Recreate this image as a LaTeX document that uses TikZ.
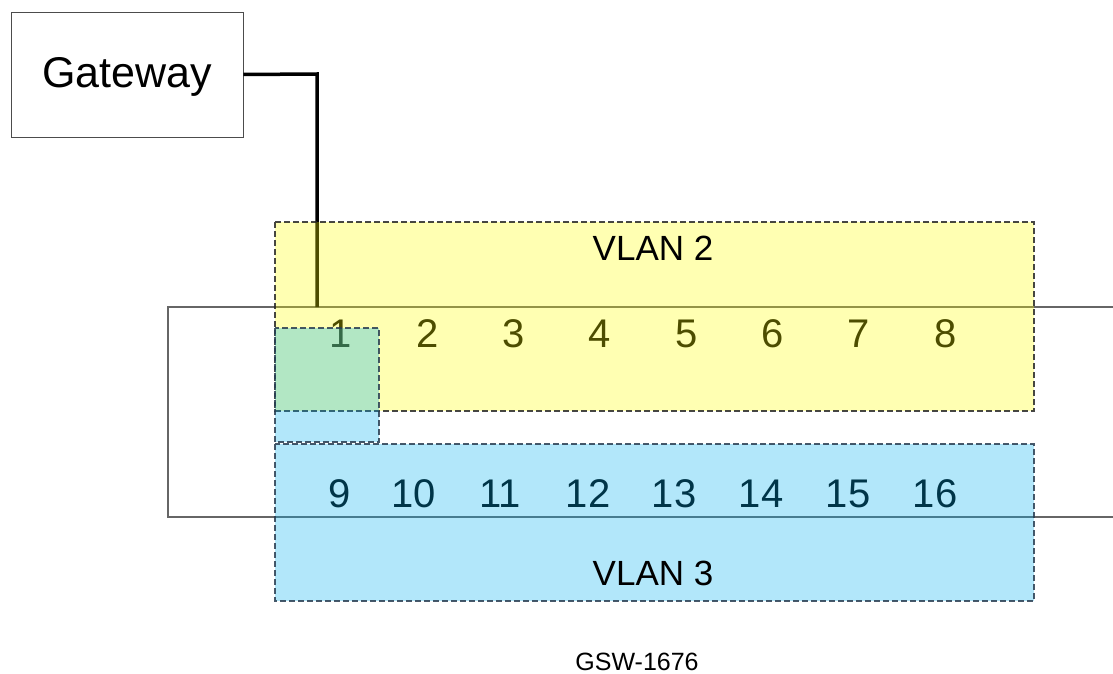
\documentclass[tikz,border=0pt]{standalone}
\usepackage{fontspec}
\setmainfont{Liberation Sans}
\begin{document}
\begin{tikzpicture}[x=1pt,y=-1pt,
  lbl/.style={inner sep=0pt,font=\fontsize{#1}{#1}\selectfont},
  portnum/.style={inner sep=0pt,font=\fontsize{40}{40}\selectfont,text=black},
  vlanyellow/.style={fill={rgb,255:red,255;green,255;blue,0},fill opacity=0.3,draw=black!85,draw opacity=0.85,dash pattern=on 6pt off 3pt,line width=1.2pt},
  vlanblue/.style={fill={rgb,255:red,0;green,176;blue,240},fill opacity=0.3,draw={rgb,255:red,40;green,60;blue,80},draw opacity=0.85,dash pattern=on 6pt off 3pt,line width=1.2pt}]
\useasboundingbox (0,0) rectangle (1113,674);
% switch body
\draw[line width=1.2pt,draw=black!60] (1113,307) -- (168,307) -- (168,517) -- (1113,517);
% gateway
\node[draw=black!70,line width=0.9pt,minimum width=232pt,minimum height=125pt,inner sep=0pt] (gw) at (127,74.5) {};
\node[lbl=43] (gwtext) at (127,77) {Gateway};
\coordinate (port1top) at (317,307);
\coordinate (bend) at (317,74);
\draw[line width=3.5pt] (gw.east) -- (bend) -- (port1top);
% port numbers
\foreach \n/\x in {1/341,2/428,3/514,4/600,5/687,6/773,7/859,8/946}
  \node[portnum] (p\n) at (\x,333.5) {\n};
\foreach \n/\x in {9/340,10/414,11/500,12/588,13/674,14/761,15/848,16/935}
  \node[portnum] (p\n) at (\x,494) {\n};
% VLAN overlays
\path[vlanyellow] (275,222) rectangle (1034,411);
\path[vlanblue] (275,444) rectangle (1034,601);
\path[vlanblue] (275,328) rectangle (379,442);
\node[lbl=35] (v2) at (653,248) {VLAN 2};
\node[lbl=35] (v3) at (653,573) {VLAN 3};
\node[lbl=25] (model) at (637,662) {GSW-1676};
\end{tikzpicture}
\end{document}
